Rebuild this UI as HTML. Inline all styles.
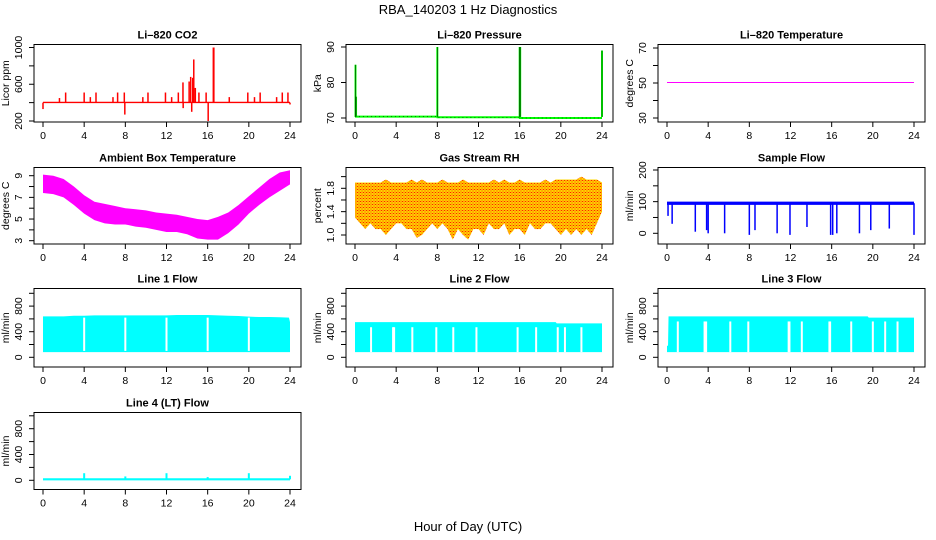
<!DOCTYPE html>
<html><head><meta charset="utf-8"><style>
html,body{margin:0;padding:0;background:#fff;}
svg{display:block;font-family:"Liberation Sans",sans-serif;}
</style></head><body>
<svg id="chart" width="936" height="540" viewBox="0 0 936 540" xmlns="http://www.w3.org/2000/svg">
<defs>
<pattern id="rhpat" width="3" height="3" patternUnits="userSpaceOnUse">
<rect width="3" height="3" fill="#FFD700"/><rect x="0" y="0" width="1" height="1" fill="#FF2000"/><rect x="1.5" y="1.5" width="1" height="1" fill="#FF3000"/><rect x="1.5" y="0" width="1" height="1" fill="#FF8800"/>
</pattern>
</defs>
<text x="468" y="14" text-anchor="middle" font-size="13">RBA_140203  1 Hz Diagnostics</text>
<text x="468" y="531" text-anchor="middle" font-size="13">Hour of Day (UTC)</text>
</svg>
<script>
// ---- data ----
const xTicks = [0,4,8,12,16,20,24];
const co2BaseHours = [0,24];
const co2Base = [400,400];
const co2SpikeHours = [0,1.6,2.2,4.0,4.6,5.15,6.8,7.25,7.9,7.95,9.7,10.2,11.9,12.5,13.15,13.6,13.62,14.2,14.35,14.45,14.55,14.65,14.8,15.15,15.85,16.05,16.55,16.6,18.1,19.9,20.55,21.1,22.7,23.25,23.8,24];
const co2SpikeValues = [330,450,510,510,460,510,460,510,510,270,460,510,510,460,510,620,340,630,680,300,670,870,560,510,510,200,1000,1000,460,510,460,510,460,510,510,380];
const pressHours = [0,8,8.01,16,16.01,24];
const pressValues = [70.4,70.4,70.2,70.2,70.0,70.0];
const pressSpikeHours = [0.05,0.1,8,16,16.05,24];
const pressSpikeValues = [85,76,90,90,90,89];
const tempHours = [0,24];
const tempValues = [50.3,50.3];
const ambHours = [0,1,2,3,4,5,6,7,8,9,10,11,12,13,14,15,16,17,18,19,20,21,22,23,24];
const ambMax = [9.1,9.0,8.7,8.0,7.2,6.6,6.4,6.2,6.0,5.9,5.8,5.6,5.5,5.4,5.2,5.0,4.9,5.2,5.6,6.3,7.1,7.9,8.7,9.3,9.5];
const ambMin = [7.4,7.3,7.0,6.3,5.5,4.9,4.6,4.5,4.5,4.3,4.2,4.0,3.8,3.8,3.6,3.2,3.1,3.1,3.7,4.5,5.5,6.3,7.0,7.6,8.2];
const rhHours = [0,0.5,1,1.5,2,2.5,3,3.5,4,4.5,5,5.5,6,6.5,7,7.5,8,8.5,9,9.5,10,10.5,11,11.5,12,12.5,13,13.5,14,14.5,15,15.5,16,16.5,17,17.5,18,18.5,19,19.5,20,20.5,21,21.5,22,22.5,23,23.5,24];
const rhMin = [1.3,1.2,1.1,1.2,1.1,1.1,1.0,1.1,1.2,1.2,1.1,1.1,0.95,1.0,1.1,1.2,1.1,1.2,1.1,0.92,1.1,1.0,0.92,1.1,1.1,1.0,1.2,1.1,1.1,1.2,1.0,1.1,1.1,1.0,1.2,1.1,1.1,1.2,1.2,1.1,1.0,1.1,1.0,1.1,1.0,1.1,1.0,1.2,1.4];
const rhMax = [1.9,1.9,1.9,1.9,1.9,1.9,1.95,1.9,1.9,1.9,1.9,1.95,1.9,1.95,1.9,1.9,1.9,1.95,1.9,1.9,1.9,1.95,1.9,1.9,1.9,1.9,1.9,1.95,1.9,1.95,1.9,1.9,1.95,1.9,1.9,1.9,1.9,1.95,1.9,1.95,1.95,1.95,1.95,1.95,2.0,1.95,1.95,1.95,1.9];
const sfHours = [0,24];
const sfValues = [97,97];
const sfDipHours = [0.1,0.5,2.75,3.85,4.0,5.6,8.0,8.55,10.7,11.95,13.6,15.9,16.1,16.5,18.7,19.8,21.6,24];
const sfDipValues = [55,30,5,10,0,0,-5,10,0,-5,20,-5,-5,0,0,10,15,-5];
const l1Hours = [0,1,2,3,4,5,6,7,8,9,10,11,12,13,14,15,16,17,18,19,20,21,22,23,23.9,24];
const l1Top = [640,640,640,650,650,655,655,655,655,655,655,655,655,660,660,660,660,655,650,645,635,630,630,625,620,550];
const l1Gaps = [4,8,12,16,20];
const l2Hours = [0,19.5,19.6,24];
const l2Top = [550,550,530,530];
const l2Gaps = [1.56,3.7,3.8,5.57,7.9,9.55,11.8,15.8,17.6,19.7,20.4,22];
const l3Hours = [0,0.1,0.15,19.5,19.6,24];
const l3Top = [180,180,640,640,620,620];
const l3Gaps = [1.05,3.65,3.8,6.15,7.9,11.82,11.9,13.1,15.78,15.85,17.9,20.0,21.2,22.4];
const l4Hours = [0,24];
const l4Base = [15,15];
const l4SpikeHours = [4,8,12,16,20,24];
const l4SpikeValues = [110,60,110,50,110,70];

// ---- layout ----
const NS = "http://www.w3.org/2000/svg";
const svg = document.getElementById('chart');
const rowBox = [[44.5,122],[167.5,244],[288.5,367],[412.5,489.5]];
function mk(tag, attrs, parent){
  const e = document.createElementNS(NS, tag);
  for (const k in attrs) e.setAttribute(k, attrs[k]);
  (parent||svg).appendChild(e);
  return e;
}
function panel(name, col, row, title, ytitle, yref, yTicks, yLabels){
  const x0 = 34 + 312*col, x1 = x0 + 267;
  const [y0, y1] = rowBox[row];
  const g = mk('g', {});
  
  
  const sx = h => x0 + 9 + h/24*247;
  const sy = v => yref[0][1] + (v - yref[0][0]) * (yref[1][1]-yref[0][1])/(yref[1][0]-yref[0][0]);
  const t = mk('text', {x:(x0+x1)/2, y:y0-6, 'text-anchor':'middle','font-size':11,'font-weight':'bold'}, g);
  t.textContent = title;
  
  
  const plot = mk('g', {}, g);
  
  
  const ax = mk('g', {stroke:'#000','stroke-width':1,fill:'none'}, g);
  
  
  mk('rect', {x:x0, y:y0, width:x1-x0, height:y1-y0}, ax);
  mk('line', {x1:sx(0), x2:sx(24), y1:y1, y2:y1}, ax);
  xTicks.forEach(h => {
    mk('line', {x1:sx(h), x2:sx(h), y1:y1, y2:y1+5}, ax);
    const tl = mk('text', {x:sx(h), y:y1+17, 'text-anchor':'middle','font-size':10.5, fill:'#000', stroke:'none'}, g);
    tl.textContent = h;
    
    
  });
  mk('line', {x1:x0, x2:x0, y1:sy(yTicks[0]), y2:sy(yTicks[yTicks.length-1])}, ax);
  yTicks.forEach(v => { mk('line', {x1:x0-5, x2:x0, y1:sy(v), y2:sy(v)}, ax); });
  yLabels.forEach(v => {
    const lx = x0 - 12, ly = sy(v);
    const tl = mk('text', {x:lx, y:ly, 'text-anchor':'middle','font-size':10.5, transform:`rotate(-90 ${lx} ${ly})`}, g);
    tl.textContent = (typeof v === 'number' && v%1 !== 0) ? v.toFixed(1) : (v===1 && name==='rh' ? '1.0' : v);
    
    
  });
  const tx = x0 - 25, ty = (y0+y1)/2;
  const yt = mk('text', {x:tx, y:ty, 'text-anchor':'middle','font-size':10.5, transform:`rotate(-90 ${tx} ${ty})`}, g);
  yt.textContent = ytitle;
  
  
  return {sx, sy, plot, x0, x1, y0, y1};
}
function band(p, hours, top, bot, fill){
  let d = '';
  hours.forEach((h,i)=>{ d += (i?'L':'M') + p.sx(h) + ' ' + p.sy(top[i]) + ' '; });
  for (let i=hours.length-1;i>=0;i--) d += 'L' + p.sx(hours[i]) + ' ' + p.sy(Array.isArray(bot)?bot[i]:bot) + ' ';
  return mk('path', {d: d+'Z', fill: fill, stroke: 'none'}, p.plot);
}
function line(p, hours, vals, color, w, dash){
  const pts = hours.map((h,i)=>p.sx(h)+','+p.sy(vals[i])).join(' ');
  const e = mk('polyline', {points: pts, fill:'none', stroke: color, 'stroke-width': w}, p.plot);
  if (dash) e.setAttribute('stroke-dasharray', dash);
  return e;
}
function spikes(p, hours, vals, base, color, w){
  hours.forEach((h,i)=>{
    const e = mk('line', {x1:p.sx(h), x2:p.sx(h), y1:p.sy(base), y2:p.sy(vals[i]), stroke:color, 'stroke-width':w}, p.plot);
    
    
  });
}
function gaps(p, hours, top, bot){
  hours.forEach(h=>{
    const e = mk('line', {x1:p.sx(h), x2:p.sx(h), y1:p.sy(top), y2:p.sy(bot), stroke:'#fff', 'stroke-width':2});
    p.plot.appendChild(e);
    
    
  });
}

let p = panel('co2', 0, 0, 'Li\u2013820 CO2', 'Licor ppm', [[1000,47.5],[200,121]], [200,400,600,800,1000], [200,600,1000]);
band(p, co2BaseHours, co2Base.map(v=>v+10), co2Base.map(v=>v-6), '#FF0000');
spikes(p, co2SpikeHours, co2SpikeValues, 400, '#FF0000', 1.5);

p = panel('pressure', 1, 0, 'Li\u2013820 Pressure', 'kPa', [[90,47],[70,118]], [70,80,90], [70,80,90]);
line(p, pressHours, pressValues, '#00FF00', 2);
line(p, pressHours, pressValues, '#000', 0.5, '1 3');
spikes(p, pressSpikeHours, pressSpikeValues, 70.3, '#00FF00', 2);
spikes(p, pressSpikeHours, pressSpikeValues, 70.3, '#000', 0.5);

p = panel('li820-temp', 2, 0, 'Li\u2013820 Temperature', 'degrees C', [[70,48],[30,118]], [30,40,50,60,70], [30,50,70]);
line(p, tempHours, tempValues, '#FF00FF', 1);

p = panel('ambient-temp', 0, 1, 'Ambient Box Temperature', 'degrees C', [[9,175.7],[3,240.7]], [3,4,5,6,7,8,9], [3,5,7,9]);
band(p, ambHours, ambMax, ambMin, '#FF00FF');

p = panel('rh', 1, 1, 'Gas Stream RH', 'percent', [[1.8,188.3],[1.0,235]], [1.0,1.2,1.4,1.6,1.8,2.0], [1.0,1.4,1.8]);
band(p, rhHours, rhMax, rhMin, 'url(#rhpat)');

p = panel('sample-flow', 2, 1, 'Sample Flow', 'ml/min', [[200,170],[0,233.3]], [0,50,100,150,200], [0,100,200]);
band(p, sfHours, sfValues.map(v=>v+3), sfValues.map(v=>v-7), '#0000FF');
spikes(p, sfDipHours, sfDipValues, 95, '#0000FF', 1.5);

const flowTicks = [0,200,400,600,800,1000], flowLabels = [0,400,800];
p = panel('line1-flow', 0, 2, 'Line 1 Flow', 'ml/min', [[0,357.3],[1000,293.3]], flowTicks, flowLabels);
band(p, l1Hours, l1Top, 80, '#00FFFF');
gaps(p, l1Gaps, 620, 100);
p = panel('line2-flow', 1, 2, 'Line 2 Flow', 'ml/min', [[0,357.3],[1000,293.3]], flowTicks, flowLabels);
band(p, l2Hours, l2Top, 80, '#00FFFF');
gaps(p, l2Gaps, 470, 80);
p = panel('line3-flow', 2, 2, 'Line 3 Flow', 'ml/min', [[0,357.3],[1000,293.3]], flowTicks, flowLabels);
band(p, l3Hours, l3Top, 80, '#00FFFF');
gaps(p, l3Gaps, 560, 80);
p = panel('line4-flow', 0, 3, 'Line 4 (LT) Flow', 'ml/min', [[0,480.3],[1000,415.8]], flowTicks, flowLabels);
band(p, l4Hours, l4Base.map(v=>v+16), l4Base.map(v=>v-16), '#00FFFF');
spikes(p, l4SpikeHours, l4SpikeValues, 15, '#00FFFF', 2);
</script>
</body></html>
